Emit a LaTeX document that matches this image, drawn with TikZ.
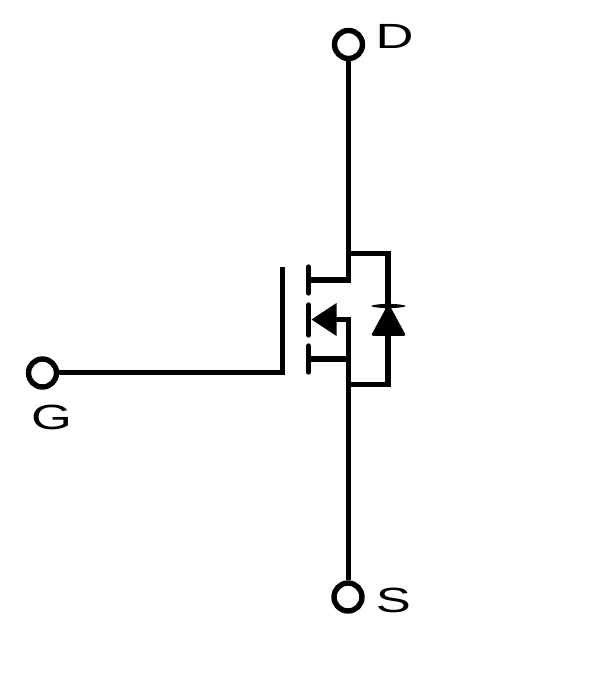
\documentclass[tikz,border=0pt]{standalone}
\usepackage{fontspec}
\setmainfont{Liberation Sans}
\begin{document}
\begin{tikzpicture}[x=1pt,y=-1pt,
  wire/.style={line width=5.4pt,line join=miter,black},
  plate/.style={line width=5.4pt,line cap=round,black},
  terminal/.style={circle,draw=black,line width=5.4pt,fill=white,minimum size=28pt,inner sep=0pt},
  pinlabel/.style={font=\fontsize{35}{35}\selectfont,inner sep=0pt,xscale=1.5,black}]
\useasboundingbox[fill=white] (0,0) rectangle (610,687);
% terminals
\node[terminal] (D) at (348.5,44.5) {};
\node[terminal] (G) at (42.5,373) {};
\node[terminal] (S) at (348,597) {};
% junctions
\coordinate (gatecorner) at (282.5,372.5);
\coordinate (gatetop) at (282.5,267);
\coordinate (drainstub) at (348.5,280);
\coordinate (drainplate) at (308.5,280);
\coordinate (sourcestub) at (348.5,359);
\coordinate (sourceplate) at (308.5,359);
\coordinate (bodyknee) at (348.5,319.5);
\coordinate (bodyarrow) at (330,319.5);
\coordinate (loopt) at (348.5,253.5);
\coordinate (loopb) at (348.5,384.5);
\coordinate (looptr) at (388,253.5);
\coordinate (loopbr) at (388,384.5);
% wires
\draw[wire] (D.south) -- (drainstub) -- (drainplate);
\draw[wire] (loopt) -- (looptr) -- (loopbr) -- (loopb);
\draw[wire] (sourceplate) -- (sourcestub);
\draw[wire] (bodyarrow) -- (bodyknee) -- (bodyknee |- S.north);
\draw[wire] (G.east) -- (G.east |- gatecorner) -- (gatecorner) -- (gatetop);
% channel plates
\draw[plate] (308.5,267) -- (308.5,293);
\draw[plate] (308.5,305) -- (308.5,335);
\draw[plate] (308.5,346) -- (308.5,372);
% body arrow
\fill[black,line join=round] (311.5,319.5) -- (336.5,303) -- (336.5,336) -- cycle;
% diode
\draw[black,fill=black,line width=2.5pt,line join=round] (388.5,306) -- (404,334.5) -- (373,334.5) -- cycle;
\fill[black] (371,306) .. controls (376,303.2) and (401,303.2) .. (406,306) .. controls (401,308.8) and (376,308.8) .. (371,306) -- cycle;
% labels
\node[pinlabel] (Dl) at (394.5,36.5) {D};
\node[pinlabel] (Gl) at (51.5,417.5) {G};
\node[pinlabel] (Sl) at (393.5,600.5) {S};
\end{tikzpicture}
\end{document}
